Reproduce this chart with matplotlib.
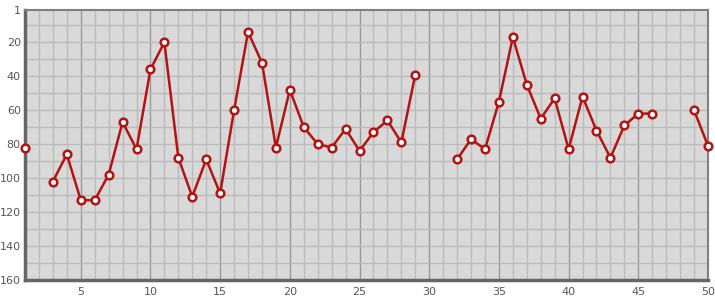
# Import libraries
import numpy as np
import matplotlib.pyplot as plt

# Data (nan = no value)
x = np.arange(1, 51)
ranks = [82, np.nan, 102, 86, 113, 113, 98, 67, 83, 36,
         20, 88, 111, 89, 109, 60, 14, 32, 82, 48,
         70, 80, 82, 71, 84, 73, 66, 79, 39, np.nan,
         np.nan, 89, 77, 83, 55, 17, 45, 65, 53, 83,
         52, 72, 88, 69, 62, 62, np.nan, np.nan, 60, 81]
y_ticks = [1, 20, 40, 60, 80, 100, 120, 140, 160]
x_ticks = [5, 10, 15, 20, 25, 30, 35, 40, 45, 50]

fig = plt.figure(figsize=(7.15, 3.0), dpi=100)
ax = fig.add_axes([25 / 715, 20 / 300, 683 / 715, 270 / 300])
ax.set_facecolor("#d9d9d9")

# grid: every integer on x, every 10 on y
for v in range(1, 51):
    ax.axvline(v, color="#999999" if v % 5 == 0 else "#bbbbbb", lw=1, zorder=1)
for v in range(10, 160, 10):
    ax.axhline(v, color="#bbbbbb", lw=1, zorder=1)

ax.plot(x, ranks, color="#b31313", lw=1.8, marker="o", markersize=5.5,
        markerfacecolor="white", markeredgecolor="#b31313", markeredgewidth=1.8,
        clip_on=False, zorder=3)

ax.set_xlim(1, 50)
ax.set_ylim(160, 1)
ax.set_xticks(x_ticks)
ax.set_yticks(y_ticks)
ax.tick_params(length=0, labelsize=8, labelcolor="#555555")
ax.tick_params(axis="y", pad=3)
ax.tick_params(axis="x", pad=5)

for s in ["left", "bottom"]:
    ax.spines[s].set_color("#666666")
    ax.spines[s].set_linewidth(2.5)
for s in ["top", "right"]:
    ax.spines[s].set_color("#808080")
    ax.spines[s].set_linewidth(1.5)

plt.savefig("out.png", dpi=100)
